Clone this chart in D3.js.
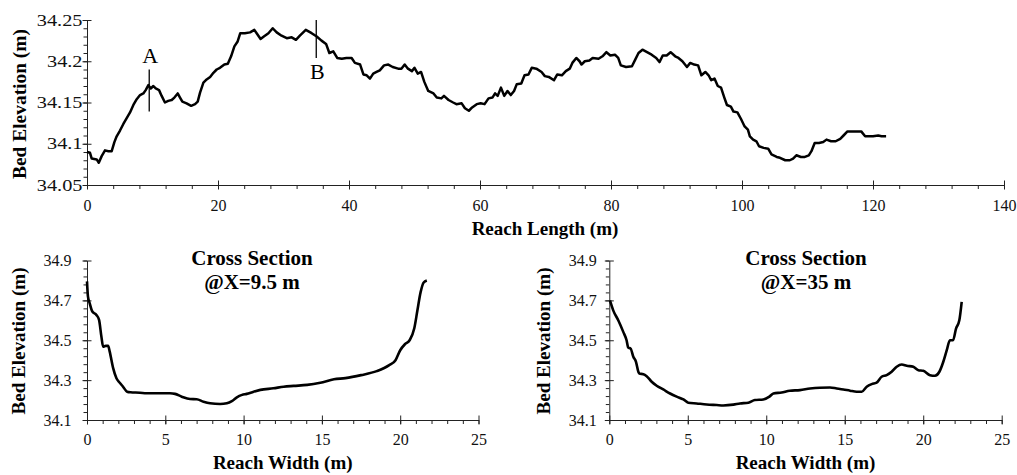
<!DOCTYPE html>
<html>
<head>
<meta charset="utf-8">
<script src="https://cdn.jsdelivr.net/npm/d3@7/dist/d3.min.js"></script>
<style>
  html, body { margin: 0; padding: 0; background: #fff; }
  svg { display: block; }
  svg text { font-family: "Liberation Serif", "Times New Roman", Times, "DejaVu Serif", serif; }
</style>
</head>
<body>
<div id="chart"></div>
<script>
// DATA
// ----------------------------------------
// Longitudinal bed profile: [reach length (m), bed elevation (m)]
const longProfile = [
  [0, 34.09], [0.46, 34.089], [0.72, 34.082], [1.48, 34.081], [1.8, 34.077], [2.24, 34.085],
  [2.75, 34.092], [3.26, 34.091], [3.77, 34.091], [4.18, 34.102], [4.53, 34.109], [5.04, 34.116],
  [5.55, 34.124], [6.06, 34.131], [6.57, 34.138], [7.08, 34.147], [7.59, 34.154], [8.1, 34.159],
  [8.6, 34.161], [8.96, 34.165], [9.37, 34.171], [9.73, 34.167], [10.13, 34.17], [10.49, 34.167],
  [11.0, 34.165], [11.4, 34.158], [11.9, 34.15], [12.4, 34.152], [12.93, 34.153], [13.34, 34.156],
  [13.85, 34.161], [14.2, 34.156], [14.56, 34.151], [15.2, 34.149], [15.9, 34.146], [16.5, 34.148],
  [16.9, 34.151], [17.26, 34.162], [17.77, 34.174], [18.27, 34.178], [18.8, 34.181], [19.3, 34.186],
  [19.8, 34.19], [20.3, 34.192], [20.97, 34.196], [21.5, 34.197], [22.0, 34.206], [22.5, 34.218],
  [23.0, 34.224], [23.4, 34.234], [24.1, 34.234], [24.9, 34.235], [25.55, 34.238], [25.9, 34.234],
  [26.5, 34.227], [27.0, 34.23], [27.7, 34.234], [28.35, 34.24], [28.96, 34.235], [29.7, 34.231],
  [30.5, 34.228], [31.25, 34.229], [31.9, 34.226], [32.5, 34.231], [33.4, 34.238], [34.3, 34.234],
  [35.07, 34.23], [35.8, 34.225], [36.5, 34.221], [37.0, 34.21], [37.6, 34.212], [38.2, 34.204],
  [38.9, 34.203], [39.6, 34.204], [40.4, 34.204], [40.9, 34.198], [41.7, 34.196], [42.2, 34.184],
  [42.7, 34.183], [43.2, 34.179], [43.7, 34.185], [44.2, 34.187], [44.7, 34.189], [45.35, 34.195],
  [46.0, 34.196], [46.67, 34.193], [47.5, 34.191], [48.0, 34.191], [48.5, 34.196], [49.0, 34.191],
  [49.6, 34.188], [50.0, 34.192], [50.5, 34.185], [51.0, 34.187], [51.5, 34.175], [52.1, 34.164],
  [52.9, 34.161], [53.4, 34.156], [54.1, 34.155], [54.5, 34.158], [55.2, 34.153], [55.9, 34.15],
  [56.4, 34.148], [57.2, 34.149], [57.7, 34.143], [58.3, 34.14], [58.8, 34.144], [59.5, 34.148],
  [60.1, 34.149], [60.7, 34.148], [61.3, 34.155], [61.9, 34.156], [62.3, 34.161], [62.7, 34.158],
  [63.2, 34.168], [63.7, 34.158], [64.2, 34.164], [64.7, 34.159], [65.2, 34.164], [65.6, 34.172],
  [66.3, 34.173], [66.8, 34.183], [67.4, 34.184], [67.9, 34.192], [68.6, 34.191], [69.4, 34.187],
  [69.9, 34.182], [70.5, 34.181], [71.3, 34.177], [71.8, 34.184], [72.5, 34.183], [73.1, 34.188],
  [73.7, 34.191], [74.1, 34.198], [74.7, 34.204], [75.2, 34.2], [75.5, 34.196], [76.0, 34.2],
  [76.7, 34.201], [77.2, 34.204], [78.1, 34.203], [78.7, 34.206], [79.3, 34.211], [79.9, 34.207],
  [80.6, 34.208], [81.1, 34.204], [81.5, 34.195], [82.3, 34.193], [83.2, 34.194], [83.7, 34.202],
  [84.2, 34.21], [84.8, 34.214], [85.5, 34.211], [86.2, 34.208], [86.9, 34.204], [87.4, 34.199],
  [87.9, 34.207], [88.5, 34.207], [89.1, 34.211], [89.8, 34.206], [90.3, 34.204], [90.9, 34.2],
  [91.6, 34.193], [92.1, 34.198], [92.7, 34.196], [93.3, 34.195], [93.8, 34.183], [94.4, 34.187],
  [94.9, 34.183], [95.3, 34.177], [95.8, 34.179], [96.3, 34.17], [96.8, 34.168], [97.3, 34.156],
  [97.7, 34.147], [98.3, 34.145], [98.7, 34.139], [99.3, 34.138], [99.85, 34.13], [100.4, 34.121],
  [100.9, 34.117], [101.2, 34.109], [101.7, 34.105], [102.2, 34.103], [102.6, 34.097], [103.3, 34.095],
  [104.0, 34.094], [104.5, 34.087], [105.3, 34.084], [105.8, 34.083], [106.6, 34.08], [107.3, 34.08],
  [107.8, 34.082], [108.3, 34.086], [109.0, 34.084], [109.6, 34.084], [110.2, 34.086], [110.6, 34.091],
  [111.1, 34.101], [111.75, 34.101], [112.4, 34.102], [112.9, 34.105], [113.6, 34.103], [114.3, 34.103],
  [115.0, 34.106], [115.5, 34.11], [116.1, 34.115], [116.7, 34.115], [117.5, 34.115], [118.2, 34.115],
  [118.8, 34.109], [119.4, 34.109], [120.0, 34.109], [120.8, 34.11], [121.3, 34.109], [122.0, 34.109]
];

// Cross section at X = 9.5 m: [reach width (m), bed elevation (m)]
const sectionA = [
  [0, 34.795], [0.06, 34.72], [0.17, 34.686], [0.34, 34.644], [0.6, 34.627], [0.77, 34.602],
  [0.92, 34.518], [1.03, 34.468], [1.2, 34.472], [1.35, 34.472], [1.45, 34.443], [1.67, 34.36],
  [1.88, 34.309], [2.09, 34.287], [2.3, 34.267], [2.56, 34.242], [2.78, 34.239], [3.38, 34.237],
  [3.8, 34.234], [4.44, 34.234], [5.3, 34.234], [5.62, 34.231], [6.05, 34.217], [6.58, 34.205],
  [7.0, 34.204], [7.44, 34.192], [7.86, 34.184], [8.5, 34.18], [8.93, 34.184], [9.25, 34.195],
  [9.57, 34.214], [9.9, 34.226], [10.2, 34.231], [10.64, 34.242], [11.07, 34.251], [11.9, 34.259],
  [12.56, 34.267], [13.2, 34.271], [14.06, 34.276], [14.9, 34.287], [15.77, 34.304], [16.5, 34.31],
  [17.5, 34.325], [18.5, 34.345], [19.3, 34.375], [19.7, 34.4], [20.0, 34.45], [20.3, 34.48],
  [20.6, 34.5], [20.9, 34.56], [21.1, 34.65], [21.3, 34.74], [21.5, 34.79], [21.7, 34.8]
];

// Cross section at X = 35 m
const sectionB = [
  [0.04, 34.7], [0.25, 34.65], [0.57, 34.6], [0.89, 34.542], [1.1, 34.5], [1.21, 34.463],
  [1.36, 34.458], [1.53, 34.417], [1.7, 34.392], [1.85, 34.342], [1.91, 34.333], [2.17, 34.33],
  [2.38, 34.32], [2.7, 34.292], [3.02, 34.272], [3.44, 34.253], [3.87, 34.233], [4.29, 34.217],
  [4.72, 34.203], [5.03, 34.187], [5.56, 34.183], [6.2, 34.178], [6.84, 34.175], [7.26, 34.173],
  [7.9, 34.177], [8.33, 34.183], [8.86, 34.187], [9.28, 34.2], [9.81, 34.203], [10.2, 34.217],
  [10.45, 34.233], [10.98, 34.238], [11.5, 34.247], [12.15, 34.25], [12.79, 34.258], [13.42, 34.262],
  [14.06, 34.263], [14.49, 34.258], [14.91, 34.253], [15.34, 34.247], [15.76, 34.242], [16.08, 34.242],
  [16.4, 34.267], [16.72, 34.28], [17.03, 34.287], [17.35, 34.317], [17.67, 34.325], [17.99, 34.342],
  [18.31, 34.367], [18.63, 34.378], [18.95, 34.372], [19.37, 34.367], [19.69, 34.35], [20.0, 34.347],
  [20.43, 34.325], [20.75, 34.322], [21.03, 34.342], [21.28, 34.392], [21.5, 34.45], [21.7, 34.5],
  [21.9, 34.5], [22.09, 34.558], [22.3, 34.6], [22.45, 34.692]
];

// Section markers on the long profile
const markers = [
  { label: "A", x: 9.5, z0: 34.139, z1: 34.19, labelBase: 63 },
  { label: "B", x: 35, z0: 34.204, z1: 34.25, labelBase: 79 }
];

// Axis tick values
const longXTicks = [0, 20, 40, 60, 80, 100, 120, 140];
const longXMinor = d3.range(0, 141, 4);
const longYTicks = [34.05, 34.1, 34.15, 34.2, 34.25];
const longYMinor = d3.range(34.05, 34.2501, 0.01);
const secXTicks = [0, 5, 10, 15, 20, 25];
const secXMinor = d3.range(0, 25.01, 1);
const secYTicks = [34.1, 34.3, 34.5, 34.7, 34.9];
const secYMinor = d3.range(34.1, 34.901, 0.04);

// STYLE
// ----------------------------------------
const WIDTH = 1017;
const HEIGHT = 475;
const AXIS_COLOR = "#222";

const svg = d3.select("#chart").append("svg")
    .attr("width", WIDTH)
    .attr("height", HEIGHT);

// HELPERS
// ----------------------------------------
function drawAxes(g, x, y, opt) {
    const y0 = y.range()[0];
    const x0 = x.range()[0];

    // minor ticks (outside only)
    g.append("g")
        .attr("transform", `translate(0,${y0})`)
        .call(d3.axisBottom(x).tickValues(opt.xMinor).tickSizeInner(4).tickSizeOuter(0).tickFormat(""))
        .call(a => a.select(".domain").remove());
    g.append("g")
        .attr("transform", `translate(${x0},0)`)
        .call(d3.axisLeft(y).tickValues(opt.yMinor).tickSizeInner(3.5).tickSizeOuter(0).tickFormat(""))
        .call(a => a.select(".domain").remove());

    // major x axis, ticks cross the line
    const xa = g.append("g")
        .attr("transform", `translate(0,${y0})`)
        .call(d3.axisBottom(x).tickValues(opt.xTicks).tickSizeInner(4.5).tickSizeOuter(0).tickFormat(d3.format("d")));
    xa.selectAll(".tick line").attr("y1", -4.5);
    xa.selectAll(".tick text")
        .attr("y", opt.xLabelY).attr("dy", 0)
        .style("font-size", "16px").attr("fill", "#111");

    // major y axis
    const ya = g.append("g")
        .attr("transform", `translate(${x0},0)`)
        .call(d3.axisLeft(y).tickValues(opt.yTicks).tickSizeInner(4.5).tickSizeOuter(0).tickFormat(opt.yFormat));
    ya.selectAll(".tick line").attr("x1", 4.5);
    ya.selectAll(".tick text")
        .attr("x", opt.yLabelX / opt.yStretch)
        .attr("transform", `scale(${opt.yStretch},1)`)
        .style("font-size", "16px").attr("fill", "#111");

    g.selectAll("g").attr("font-family", null);
    g.selectAll(".domain, .tick line").attr("stroke", AXIS_COLOR);
}

function yTitle(cx, cy, len) {
    svg.append("text")
        .attr("transform", `translate(${cx},${cy}) rotate(-90)`)
        .attr("text-anchor", "middle")
        .attr("dy", "0.35em")
        .attr("textLength", len)
        .attr("lengthAdjust", "spacingAndGlyphs")
        .style("font-size", "19px").style("font-weight", "bold")
        .text("Bed Elevation (m)");
}

function xTitle(cx, baseY, label) {
    svg.append("text")
        .attr("x", cx).attr("y", baseY)
        .attr("text-anchor", "middle")
        .style("font-size", "19px").style("font-weight", "bold")
        .text(label);
}

// LONG PROFILE
// ----------------------------------------
const xLong = d3.scaleLinear().domain([0, 140]).range([87, 1004]);
const yLong = d3.scaleLinear().domain([34.05, 34.25]).range([185, 20]);
const gLong = svg.append("g");

drawAxes(gLong, xLong, yLong, {
    xTicks: longXTicks, xMinor: longXMinor, yTicks: longYTicks, yMinor: longYMinor,
    xLabelY: 26, yLabelX: -4.5, yStretch: 1.27,
    yFormat: d => d3.format(".2f")(d).replace(/0$/, "")
});

gLong.append("path")
    .datum(longProfile)
    .attr("fill", "none")
    .attr("stroke", "#000")
    .attr("stroke-width", 2.5)
    .attr("stroke-linejoin", "round")
    .attr("d", d3.line().x(d => xLong(d[0])).y(d => yLong(d[1])));

markers.forEach(m => {
    gLong.append("line")
        .attr("x1", xLong(m.x)).attr("x2", xLong(m.x))
        .attr("y1", yLong(m.z0)).attr("y2", yLong(m.z1))
        .attr("stroke", "#000").attr("stroke-width", 1.3);
    gLong.append("text")
        .attr("x", xLong(m.x) + 1)
        .attr("y", m.labelBase)
        .attr("text-anchor", "middle")
        .style("font-size", "22px")
        .text(m.label);
});

yTitle(19, 104, 150);
xTitle(545, 235, "Reach Length (m)");

// CROSS SECTIONS
// ----------------------------------------
const sections = [
    { data: sectionA, range: [87, 478.5], title: "@X=9.5 m", cx: 252, yLabelX: -15.5, yTitleX: 18 },
    { data: sectionB, range: [609.3, 1001.7], title: "@X=35 m", cx: 806, yLabelX: -12.5, yTitleX: 543 }
];

sections.forEach(s => {
    const x = d3.scaleLinear().domain([0, 25]).range(s.range);
    const y = d3.scaleLinear().domain([34.1, 34.9]).range([420, 260.5]);
    const g = svg.append("g");

    drawAxes(g, x, y, {
        xTicks: secXTicks, xMinor: secXMinor, yTicks: secYTicks, yMinor: secYMinor,
        xLabelY: 24.5, yLabelX: s.yLabelX, yStretch: 1,
        yFormat: d3.format(".1f")
    });

    g.append("path")
        .datum(s.data)
        .attr("fill", "none")
        .attr("stroke", "#000")
        .attr("stroke-width", 2.6)
        .attr("stroke-linejoin", "round")
        .attr("d", d3.line().curve(d3.curveMonotoneX).x(d => x(d[0])).y(d => y(d[1])));

    svg.append("text")
        .attr("x", s.cx).attr("y", 265)
        .attr("text-anchor", "middle")
        .style("font-size", "21px").style("font-weight", "bold")
        .text("Cross Section");
    svg.append("text")
        .attr("x", s.cx).attr("y", 289)
        .attr("text-anchor", "middle")
        .style("font-size", "21px").style("font-weight", "bold")
        .text(s.title);

    yTitle(s.yTitleX, 341, 147);
    xTitle((s.range[0] + s.range[1]) / 2, 469, "Reach Width (m)");
});
</script>
</body>
</html>
